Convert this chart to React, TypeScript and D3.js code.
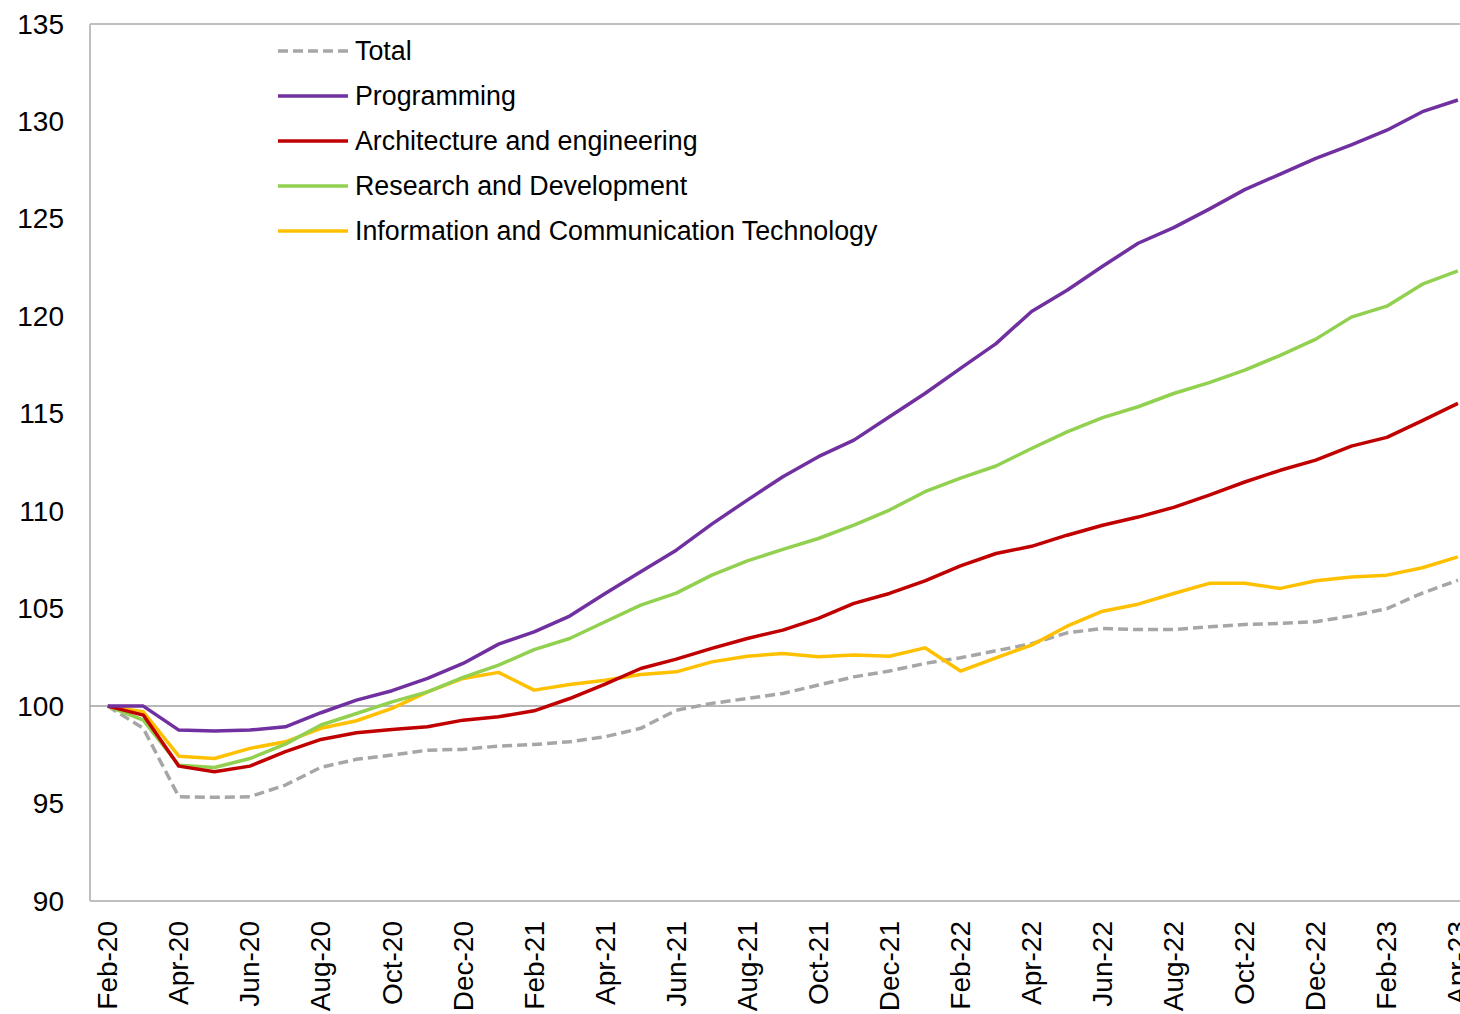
import React from "react";
import * as d3 from "d3";

const months = [
  "Feb-20","Mar-20","Apr-20","May-20","Jun-20","Jul-20","Aug-20","Sep-20","Oct-20","Nov-20","Dec-20",
  "Jan-21","Feb-21","Mar-21","Apr-21","May-21","Jun-21","Jul-21","Aug-21","Sep-21","Oct-21","Nov-21","Dec-21",
  "Jan-22","Feb-22","Mar-22","Apr-22","May-22","Jun-22","Jul-22","Aug-22","Sep-22","Oct-22","Nov-22","Dec-22",
  "Jan-23","Feb-23","Mar-23","Apr-23",
];

const total = [100, 98.86, 95.35, 95.32, 95.35, 95.95, 96.86, 97.27, 97.49, 97.74, 97.78, 97.95, 98.03, 98.17, 98.43, 98.86, 99.79, 100.14, 100.39, 100.65, 101.08, 101.5, 101.8, 102.19, 102.48, 102.84, 103.2, 103.76, 103.98, 103.93, 103.93, 104.07, 104.19, 104.24, 104.33, 104.63, 105.0, 105.8, 106.46];
const programming = [100, 100, 98.77, 98.72, 98.77, 98.94, 99.66, 100.31, 100.79, 101.42, 102.19, 103.18, 103.81, 104.62, 105.78, 106.89, 108.0, 109.34, 110.57, 111.77, 112.8, 113.65, 114.85, 116.04, 117.33, 118.6, 120.25, 121.34, 122.57, 123.75, 124.55, 125.5, 126.5, 127.3, 128.1, 128.8, 129.55, 130.5, 131.1];
const architecture = [100, 99.54, 96.92, 96.63, 96.92, 97.66, 98.29, 98.63, 98.8, 98.94, 99.28, 99.45, 99.76, 100.39, 101.13, 101.93, 102.41, 102.96, 103.47, 103.9, 104.5, 105.27, 105.78, 106.43, 107.2, 107.83, 108.2, 108.77, 109.28, 109.7, 110.2, 110.83, 111.5, 112.1, 112.62, 113.34, 113.79, 114.65, 115.53];
const research = [100, 99.28, 96.97, 96.85, 97.31, 98.05, 99.03, 99.62, 100.22, 100.73, 101.47, 102.1, 102.9, 103.47, 104.33, 105.18, 105.8, 106.72, 107.45, 108.04, 108.6, 109.29, 110.06, 111.0, 111.7, 112.32, 113.22, 114.07, 114.8, 115.36, 116.04, 116.6, 117.24, 118.0, 118.83, 119.96, 120.52, 121.65, 122.33];
const ict = [100, 99.71, 97.43, 97.31, 97.83, 98.17, 98.86, 99.25, 99.88, 100.73, 101.42, 101.73, 100.82, 101.11, 101.33, 101.62, 101.76, 102.27, 102.56, 102.7, 102.53, 102.62, 102.56, 102.99, 101.8, 102.48, 103.13, 104.1, 104.87, 105.23, 105.78, 106.3, 106.3, 106.04, 106.43, 106.63, 106.72, 107.1, 107.66];

const yTicks = [90, 95, 100, 105, 110, 115, 120, 125, 130, 135];

const seriesNames = ["Total", "Programming", "Architecture and engineering", "Research and Development", "Information and Communication Technology"];
const seriesColors = ["#a6a6a6", "#7030a0", "#c00000", "#92d050", "#ffc000"];
const seriesData = [total, programming, architecture, research, ict];

const FONT = "'Liberation Sans', Arial, sans-serif";

export default function App() {
  const W = 1460, H = 1014;
  const left = 90, top = 24, bottom = 901;
  const step = 35.53;
  const right = left + months.length * step;

  const x = d3.scalePoint<string>().domain(months).range([left, right]).padding(0.5);
  const y = d3.scaleLinear().domain([90, 135]).range([bottom, top]);

  const line = d3
    .line<number>()
    .x((_, i) => x(months[i]) as number)
    .y((d) => y(d));

  const drawOrder = [0, 4, 3, 2, 1];

  return (
    <div style={{ position: "absolute", left: 0, top: 0, width: W, height: H, overflow: "hidden" }}>
      <svg width={W} height={H} style={{ display: "block", background: "#fff" }}>
        <line x1={left} x2={left} y1={top} y2={bottom} stroke="#bfbfbf" strokeWidth={2} />
        <line x1={left} x2={right} y1={top} y2={top} stroke="#bfbfbf" strokeWidth={2} />
        <line x1={left} x2={right} y1={bottom} y2={bottom} stroke="#bfbfbf" strokeWidth={2} />
        <line x1={right} x2={right} y1={top} y2={bottom} stroke="#bfbfbf" strokeWidth={2} />
        <line x1={left} x2={right} y1={y(100)} y2={y(100)} stroke="#a0a0a0" strokeWidth={1.5} />

        {yTicks.map((t) => (
          <text key={t} x={64} y={y(t)} textAnchor="end" dominantBaseline="central" fontFamily={FONT} fontSize={28} fill="#000">
            {t}
          </text>
        ))}

        {months.map((m, i) =>
          i % 2 === 0 ? (
            <text
              key={m}
              transform={`translate(${x(m)},${921}) rotate(-90)`}
              textAnchor="end"
              dominantBaseline="central"
              fontFamily={FONT}
              fontSize={28}
              fill="#000"
            >
              {m}
            </text>
          ) : null
        )}

        {drawOrder.map((k) => (
          <path
            key={seriesNames[k]}
            d={line(seriesData[k]) as string}
            fill="none"
            stroke={seriesColors[k]}
            strokeWidth={3.5}
            strokeDasharray={k === 0 ? "10,5" : undefined}
            strokeLinejoin="round"
          />
        ))}

        {seriesNames.map((n, i) => {
          const ly = 51 + i * 45;
          return (
            <g key={n}>
              <line
                x1={278}
                x2={348}
                y1={ly}
                y2={ly}
                stroke={seriesColors[i]}
                strokeWidth={3.5}
                strokeDasharray={i === 0 ? "10,5" : undefined}
              />
              <text x={355} y={ly} dominantBaseline="central" fontFamily={FONT} fontSize={26.8} fill="#000">
                {n}
              </text>
            </g>
          );
        })}
      </svg>
    </div>
  );
}
